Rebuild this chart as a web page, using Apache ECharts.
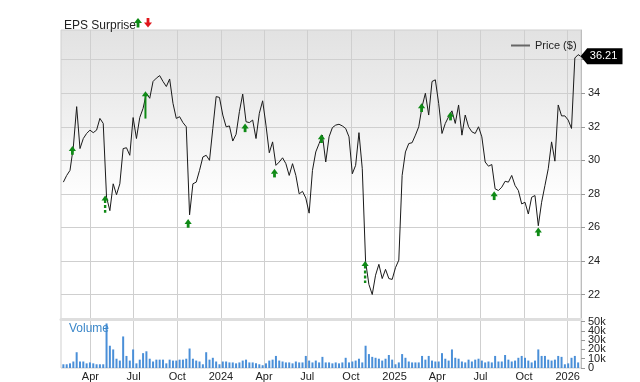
<!DOCTYPE html>
<html>
<head>
<meta charset="utf-8">
<script src="https://cdn.jsdelivr.net/npm/echarts@6/dist/echarts.min.js"></script>
<style>html,body{margin:0;padding:0;background:#fff}#c{width:640px;height:382px}</style>
</head>
<body>
<div id="c"></div>
<script>
// ---- data ----
const weekDates = [
'2023-02-03','2023-02-10','2023-02-17','2023-02-24','2023-03-03','2023-03-10','2023-03-17','2023-03-24','2023-03-31',
'2023-04-07','2023-04-14','2023-04-21','2023-04-28','2023-05-05','2023-05-12','2023-05-19','2023-05-26',
'2023-06-02','2023-06-09','2023-06-16','2023-06-23','2023-06-30','2023-07-07','2023-07-14','2023-07-21','2023-07-28',
'2023-08-04','2023-08-11','2023-08-18','2023-08-25','2023-09-01','2023-09-08','2023-09-15','2023-09-22','2023-09-29',
'2023-10-06','2023-10-13','2023-10-20','2023-10-27','2023-11-03','2023-11-10','2023-11-17','2023-11-24',
'2023-12-01','2023-12-08','2023-12-15','2023-12-22','2023-12-29',
'2024-01-05','2024-01-12','2024-01-19','2024-01-26','2024-02-02','2024-02-09','2024-02-16','2024-02-23',
'2024-03-01','2024-03-08','2024-03-15','2024-03-22','2024-03-29','2024-04-05','2024-04-12','2024-04-19','2024-04-26',
'2024-05-03','2024-05-10','2024-05-17','2024-05-24','2024-05-31','2024-06-07','2024-06-14','2024-06-21','2024-06-28',
'2024-07-05','2024-07-12','2024-07-19','2024-07-26','2024-08-02','2024-08-09','2024-08-16','2024-08-23','2024-08-30',
'2024-09-06','2024-09-13','2024-09-20','2024-09-27','2024-10-04','2024-10-11','2024-10-18','2024-10-25',
'2024-11-01','2024-11-08','2024-11-15','2024-11-22','2024-11-29','2024-12-06','2024-12-13','2024-12-20','2024-12-27',
'2025-01-03','2025-01-10','2025-01-17','2025-01-24','2025-01-31','2025-02-07','2025-02-14','2025-02-21','2025-02-28',
'2025-03-07','2025-03-14','2025-03-21','2025-03-28','2025-04-04','2025-04-11','2025-04-18','2025-04-25',
'2025-05-02','2025-05-09','2025-05-16','2025-05-23','2025-05-30','2025-06-06','2025-06-13','2025-06-20','2025-06-27',
'2025-07-04','2025-07-11','2025-07-18','2025-07-25','2025-08-01','2025-08-08','2025-08-15','2025-08-22','2025-08-29',
'2025-09-05','2025-09-12','2025-09-19','2025-09-26','2025-10-03','2025-10-10','2025-10-17','2025-10-24','2025-10-31',
'2025-11-07','2025-11-14','2025-11-21','2025-11-28','2025-12-05','2025-12-12','2025-12-19','2025-12-26',
'2026-01-02','2026-01-09','2026-01-16','2026-01-23'
];
const lastDate = '2026-01-28';

const priceValues = [
28.7,29.1,29.4,30.8,33.2,30.7,31.3,31.6,31.8,31.65,31.8,32.5,32.2,27.8,27.0,28.6,27.95,28.6,30.7,30.75,
30.3,32.55,31.3,32.55,33.1,34.0,33.7,34.7,34.9,35.05,34.7,34.4,34.85,33.4,32.5,32.6,32.25,32.0,26.75,28.6,
28.7,29.4,30.2,30.3,30.0,31.9,33.8,33.75,32.7,32.0,32.05,31.15,31.55,32.9,33.95,32.3,32.25,32.4,31.3,32.8,
33.55,32.1,30.45,31.1,29.7,29.9,30.15,29.8,29.1,29.8,29.1,28.0,28.15,27.75,26.85,29.4,30.5,31.0,31.5,29.9,
31.4,31.95,32.1,32.15,32.05,31.9,31.4,29.2,29.7,31.65,29.5,23.95,22.6,22.0,23.15,23.8,22.95,23.5,22.95,22.9,
23.6,24.05,29.1,30.5,31.0,31.05,31.5,32.0,33.2,34.0,32.7,34.7,34.8,33.4,31.6,32.2,32.6,32.95,32.2,33.3,
31.5,32.7,32.0,31.7,31.6,32.0,31.4,29.9,29.65,29.75,28.3,28.2,28.4,28.75,28.7,29.1,28.5,28.2,27.4,27.5,
26.8,27.8,27.9,26.1,27.5,28.5,29.5,31.1,29.95,33.3,32.65,32.65,32.4,31.9,36.1,36.3
];
const lastPrice = 36.21;

// weekly volume, thousands
const volumeValues = [
4,4,5,7,17,7,7,5,6,5,4,4,4,48,24,20,10,8,34,13,
8,20,5,9,16,18,10,7,9,9,9,5,9,8,8,9,9,10,21,10,
8,7,4,17,9,11,7,4,7,7,6,6,5,6,8,9,6,6,5,4,
3,5,8,9,13,8,7,6,6,5,7,6,6,13,8,6,8,6,12,6,
6,5,6,5,6,11,6,7,8,10,6,24,15,12,11,10,8,10,14,9,
4,6,15,11,7,6,6,6,13,9,13,8,7,7,16,10,8,20,11,10,
7,6,9,7,9,10,8,6,7,6,13,7,7,14,9,7,8,11,13,11,
8,6,8,20,13,13,9,8,9,13,12,4,5,11,13,6
];

// EPS surprise arrows: tip value, tail value (null = short arrow), kind
const epsDates = ['2023-02-22','2023-05-02','2023-07-26','2023-10-24','2024-02-21','2024-04-23',
                  '2024-07-31','2024-10-31','2025-02-27','2025-04-29','2025-07-30','2025-10-31'];
const epsTip   = [30.85,27.9,34.12,26.5,32.2,29.5,31.55,24.0,33.4,32.9,28.15,26.0];
const epsTail  = [null,26.87,32.49,null,null,null,null,22.68,null,null,null,null];
const epsKind  = ['short','dashed','solid','short','short','short','short','dashed','short','short','short','short'];

const xTickDates  = ['2023-04-01','2023-07-01','2023-10-01','2024-01-01','2024-04-01','2024-07-01',
                     '2024-10-01','2025-01-01','2025-04-01','2025-07-01','2025-10-01','2026-01-01'];
const xTickLabels = ['Apr','Jul','Oct','2024','Apr','Jul','Oct','2025','Apr','Jul','Oct','2026'];
const priceTicks  = [22,24,26,28,30,32,34,36];
const volumeTicksA = [0,20,40];
const volumeTicksB = [10,30,50];

// ---- build ----
const ts = s => { const p = s.split('-').map(Number); return Date.UTC(p[0], p[1]-1, p[2]); };
const xMin = ts('2023-01-29'), xMax = ts('2026-01-29');
const xTickTs = xTickDates.map(ts);
const labelMap = {}; xTickTs.forEach((t,i)=>{ labelMap[t] = xTickLabels[i]; });

const priceData = weekDates.map((d,i)=>[ts(d), priceValues[i]]);
priceData.push([ts(lastDate), lastPrice]);
const volumeData = weekDates.map((d,i)=>[ts(d), volumeValues[i]]);
const kindIdx = {short:0, solid:1, dashed:2};
const epsData = epsDates.map((d,i)=>[ts(d), epsTip[i], epsTail[i]==null? epsTip[i] : epsTail[i], kindIdx[epsKind[i]]]);

const GREEN = '#0f8a16';
const GRID_LINE = '#cfcfcf';
const FONT = 'Liberation Sans, Arial, sans-serif';
const VOL_MAX = 52.8;
const volFmt = v => v === 0 ? '0' : v + 'k';
const volAxis = (ticks, showLine) => ({
  type: 'value', gridIndex: 1, position: 'right', offset: 0, min: 0, max: VOL_MAX,
  axisLine: {show: showLine, lineStyle: {color: '#bdbdbd'}},
  axisTick: {show: true, length: 4, lineStyle: {color: '#999'}, customValues: ticks},
  axisLabel: {customValues: ticks, margin: 7, fontSize: 11, color: '#222',
    showMinLabel: true, showMaxLabel: true, formatter: volFmt},
  splitLine: {show: false}
});
const chart = echarts.init(document.getElementById('c'), null, {renderer:'canvas'});

chart.setOption({
  animation: false,
  textStyle: {fontFamily: FONT},
  title: {text: 'EPS Surprise', left: 59, top: 15,
    textStyle: {fontSize: 12, fontWeight: 'normal', color: '#222'}},
  legend: {data: [{name: 'Price ($)', icon: 'rect'}], left: 506, top: 35,
    itemWidth: 19, itemHeight: 2, itemGap: 5,
    itemStyle: {color: '#666'},
    textStyle: {fontSize: 11, color: '#222'}},
  graphic: [
    {type:'polygon', shape:{points:[[134,23],[138,18],[142,23]]}, style:{fill:GREEN}},
    {type:'rect', shape:{x:136.6,y:22.5,width:2.8,height:5}, style:{fill:GREEN}},
    {type:'polygon', shape:{points:[[144,22.5],[148,27.5],[152,22.5]]}, style:{fill:'#e0161b'}},
    {type:'rect', shape:{x:146.6,y:18,width:2.8,height:5}, style:{fill:'#e0161b'}},
    {type:'text', left: 69, top: 323, z: 10, style:{text:'Volume', fill:'#3b87c9', font:'12px ' + FONT}}
  ],
  grid: [
    {left: 61, right: 59, top: 30, height: 289, show: true, borderColor: GRID_LINE, borderWidth: 1,
     backgroundColor: new echarts.graphic.LinearGradient(0,0,0,1,[
       {offset:0, color:'#e2e2e2'},{offset:0.25, color:'#ededed'},{offset:0.5, color:'#fafafa'},{offset:0.6, color:'#ffffff'},{offset:1, color:'#ffffff'}])},
    {left: 61, right: 59, top: 319, height: 50.5, show: true, borderColor: GRID_LINE, borderWidth: 1, backgroundColor: '#fff'}
  ],
  xAxis: [
    {type: 'value', gridIndex: 0, min: xMin, max: xMax,
     axisLine: {show: true, lineStyle: {color: '#dedede', width: 3}},
     axisTick: {show: false, customValues: xTickTs},
     axisLabel: {show: false, customValues: xTickTs},
     splitLine: {show: true, lineStyle: {color: GRID_LINE, width: 1}}},
    {type: 'value', gridIndex: 1, min: xMin, max: xMax,
     axisLine: {show: false},
     axisTick: {show: false, customValues: xTickTs},
     axisLabel: {show: true, customValues: xTickTs, margin: 3, fontSize: 11, color: '#222',
       formatter: v => labelMap[v] || ''},
     splitLine: {show: true, lineStyle: {color: GRID_LINE, width: 1}}}
  ],
  yAxis: [
    {type: 'value', gridIndex: 0, position: 'right', min: 20.54, max: 37.77,
     axisLine: {show: true, lineStyle: {color: '#bdbdbd'}},
     axisTick: {show: true, length: 4, lineStyle: {color: '#999'}, customValues: priceTicks},
     axisLabel: {customValues: priceTicks, margin: 7, fontSize: 11, color: '#222'},
     splitLine: {show: true, lineStyle: {color: GRID_LINE, width: 1}}},
    volAxis(volumeTicksA, true),
    volAxis(volumeTicksB, false)
  ],
  series: [
    {name: 'Price ($)', type: 'line', xAxisIndex: 0, yAxisIndex: 0, data: priceData,
     showSymbol: false, symbol: 'none', lineStyle: {color: '#1a1a1a', width: 1}, itemStyle: {color: '#1a1a1a'},
     z: 3,
     markPoint: {
       symbol: 'path://M0,8 L7,0 L44,0 L44,16 L7,16 Z',
       symbolSize: [42, 16], symbolKeepAspect: false, symbolOffset: ['50%', 0],
       itemStyle: {color: '#000'},
       label: {show: true, color: '#fff', fontSize: 11, offset: [2, 0],
         formatter: p => p.value.toFixed(2)},
       data: [{coord: [ts(lastDate), lastPrice], value: lastPrice}]
     }},
    {name: 'EPS', type: 'custom', xAxisIndex: 0, yAxisIndex: 0, data: epsData, z: 4,
     encode: {x: 0, y: 1},
     renderItem: function (params, api) {
       const tip = api.coord([api.value(0), api.value(1)]);
       const tail = api.coord([api.value(0), api.value(2)]);
       const kind = api.value(3);
       const x = tip[0], y = tip[1];
       const hw = 3.6, hh = 5;
       const ch = [{type: 'polygon', shape: {points: [[x, y], [x - hw, y + hh], [x + hw, y + hh]]}, style: {fill: GREEN}}];
       if (kind === 0) {
         ch.push({type: 'rect', shape: {x: x - 1.4, y: y + hh - 0.5, width: 2.8, height: 4.2}, style: {fill: GREEN}});
       } else {
         ch.push({type: 'line', shape: {x1: x, y1: y + hh - 0.5, x2: x, y2: tail[1]},
           style: {stroke: GREEN, lineWidth: kind === 2 ? 2.4 : 2, lineDash: kind === 2 ? [3, 2] : null}});
       }
       return {type: 'group', children: ch};
     }},
    {name: 'Volume', type: 'bar', xAxisIndex: 1, yAxisIndex: 1, data: volumeData,
     barWidth: 2, itemStyle: {color: '#4a8fd8'}}
  ]
});
</script>
</body>
</html>
